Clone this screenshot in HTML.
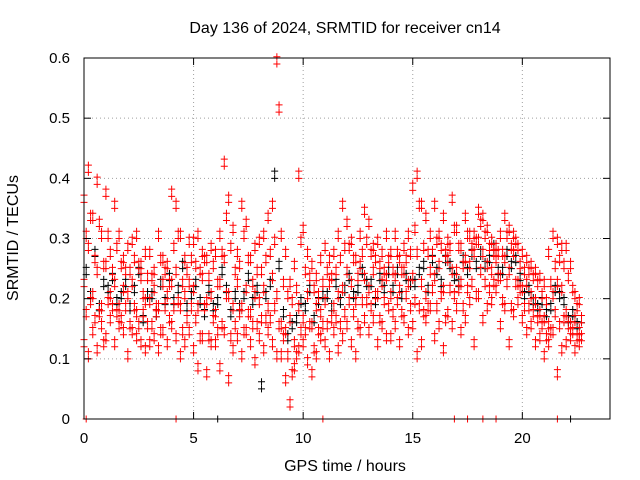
<!DOCTYPE html>
<html><head><meta charset="utf-8"><style>
html,body{margin:0;padding:0;background:#fff;}
svg{display:block;font-family:"Liberation Sans",Arial,sans-serif;}
</style></head><body>
<svg id="chart" width="640" height="480">
<rect x="0" y="0" width="640" height="480" fill="#fff"/>
<text x="345" y="33" font-size="16" text-anchor="middle">Day 136 of 2024, SRMTID for receiver cn14</text>
<text x="345" y="471" font-size="16" text-anchor="middle">GPS time / hours</text>
<text transform="translate(18,238) rotate(-90)" font-size="16" text-anchor="middle">SRMTID / TECUs</text>
<g id="grid"></g><g id="marks"></g><g id="axes"></g>
</svg>
<script>
const xTicks=[0,5,10,15,20];
const yTicks=[0,0.1,0.2,0.3,0.4,0.5,0.6];
const yTickLabels=["0","0.1","0.2","0.3","0.4","0.5","0.6"];
const times=[0,0.2,0.4,0.6,0.8,1,1.2,1.4,1.6,1.8,2,2.2,2.4,2.6,2.8,3,3.2,3.4,3.6,3.8,4,4.2,4.4,4.6,4.8,5,5.2,5.4,5.6,5.8,6,6.2,6.4,6.6,6.8,7,7.2,7.4,7.6,7.8,8,8.2,8.4,8.6,8.8,9,9.2,9.4,9.6,9.8,10,10.2,10.4,10.6,10.8,11,11.2,11.4,11.6,11.8,12,12.2,12.4,12.6,12.8,13,13.2,13.4,13.6,13.8,14,14.2,14.4,14.6,14.8,15,15.2,15.4,15.6,15.8,16,16.2,16.4,16.6,16.8,17,17.2,17.4,17.6,17.8,18,18.2,18.4,18.6,18.8,19,19.2,19.4,19.6,19.8,20,20.2,20.4,20.6,20.8,21,21.2,21.4,21.6,21.8,22,22.2,22.4,22.6];
const redHi=[.36,.41,.33,.39,.30,.37,.27,.35,.30,.26,.28,.29,.30,.25,.27,.27,.24,.30,.26,.25,.37,.35,.30,.26,.29,.29,.30,.27,.26,.28,.27,.30,.42,.36,.31,.27,.35,.32,.26,.28,.29,.30,.33,.35,.59,.30,.27,.22,.25,.40,.31,.27,.25,.23,.26,.28,.26,.27,.30,.35,.32,.29,.26,.30,.34,.32,.28,.29,.27,.30,.27,.30,.26,.28,.30,.38,.40,.35,.33,.30,.35,.30,.33,.29,.36,.31,.28,.33,.30,.30,.34,.33,.31,.29,.28,.30,.33,.31,.30,.28,.27,.26,.25,.24,.23,.22,.27,.30,.29,.28,.28,.25,.20,.19];
const redUpper=[.30,.33,.26,.32,.25,.30,.24,.28,.25,.24,.24,.26,.25,.20,.23,.23,.18,.26,.24,.22,.28,.30,.22,.24,.26,.25,.24,.26,.23,.25,.22,.27,.33,.28,.24,.25,.30,.26,.22,.24,.24,.26,.27,.29,.51,.22,.20,.19,.21,.29,.24,.23,.21,.20,.22,.24,.23,.24,.26,.28,.28,.26,.23,.27,.29,.27,.26,.25,.24,.26,.24,.27,.24,.26,.27,.31,.35,.28,.27,.27,.29,.28,.27,.28,.31,.28,.25,.30,.28,.29,.32,.30,.28,.27,.27,.27,.30,.28,.29,.25,.24,.24,.23,.22,.20,.19,.22,.25,.26,.25,.23,.21,.18,.16];
const redMid=[.22,.28,.20,.24,.18,.25,.20,.22,.18,.21,.20,.22,.17,.23,.19,.19,.21,.18,.22,.20,.22,.24,.18,.20,.22,.21,.18,.23,.19,.20,.17,.22,.26,.20,.18,.22,.18,.21,.17,.20,.19,.21,.18,.23,.20,.15,.14,.16,.12,.18,.16,.20,.15,.18,.17,.19,.22,.18,.20,.21,.24,.22,.19,.25,.23,.21,.24,.20,.22,.23,.20,.23,.21,.24,.22,.23,.27,.22,.20,.24,.23,.25,.21,.26,.24,.24,.22,.26,.25,.27,.29,.27,.25,.24,.26,.23,.26,.24,.27,.22,.21,.22,.20,.19,.17,.16,.15,.20,.22,.21,.17,.15,.16,.14];
const redLower=[.17,.19,.16,.17,.12,.19,.18,.17,.16,.18,.15,.18,.15,.17,.15,.15,.17,.14,.18,.16,.18,.19,.14,.16,.18,.16,.13,.18,.13,.16,.14,.15,.20,.13,.15,.17,.14,.17,.15,.15,.16,.16,.16,.18,.15,.13,.10,.07,.10,.14,.14,.15,.11,.14,.15,.15,.16,.16,.15,.17,.19,.17,.15,.19,.19,.18,.20,.16,.19,.18,.17,.19,.17,.20,.18,.19,.18,.17,.18,.21,.18,.20,.16,.21,.20,.21,.18,.21,.22,.20,.24,.22,.21,.22,.23,.19,.22,.18,.22,.21,.18,.18,.17,.16,.15,.13,.14,.17,.15,.16,.15,.14,.13,.13];
const redLo=[.12,.10,.14,.11,.15,.13,.16,.12,.15,.14,.10,.14,.13,.12,.11,.12,.13,.11,.14,.12,.15,.13,.10,.12,.14,.11,.08,.13,.07,.12,.12,.08,.14,.06,.11,.13,.10,.14,.12,.09,.13,.11,.14,.12,.10,.10,.06,.02,.08,.11,.12,.09,.07,.10,.13,.12,.10,.14,.11,.13,.15,.12,.10,.14,.16,.14,.16,.12,.15,.13,.13,.15,.12,.16,.14,.15,.10,.12,.16,.18,.13,.15,.11,.17,.15,.18,.14,.16,.19,.12,.20,.16,.18,.19,.21,.15,.18,.12,.17,.19,.16,.14,.15,.12,.13,.10,.12,.14,.07,.11,.12,.13,.11,.12];
const blackVals=[.24,.20,.27,.18,.22,.21,.23,.19,.20,.22,.18,.21,.24,.16,.20,.20,.17,.22,.19,.23,.19,.21,.25,.18,.20,.22,.19,.17,.21,.18,.19,.24,.21,.17,.20,.18,.20,.23,.19,.21,.05,.20,.22,.40,.25,.17,.13,.15,.16,.19,.18,.21,.16,.19,.20,.20,.18,.22,.19,.21,.23,.20,.21,.24,.22,.22,.19,.23,.21,.24,.21,.24,.20,.23,.22,.22,.24,.25,.21,.26,.24,.22,.26,.25,.23,.22,.26,.24,.27,.25,.27,.25,.26,.28,.24,.24,.27,.25,.26,.23,.20,.21,.19,.18,.19,.17,.18,.21,.20,.19,.16,.17,.15,.16];
const zeroTimes=[0.1,4.2,10.9,16.9,17.5,18.2,18.8,21.6];
const zeroBlackTimes=[6.1,22.2];

const X0=84,X1=610,Y0=419,Y1=58,XMAX=24,YMAX=0.6;
const sx=v=>X0+(X1-X0)*v/XMAX;
const sy=v=>Y0-(Y0-Y1)*v/YMAX;
const NS="http://www.w3.org/2000/svg";
function mk(tag,attrs,parent){const e=document.createElementNS(NS,tag);for(const k in attrs)e.setAttribute(k,attrs[k]);parent.appendChild(e);return e;}
const grid=document.getElementById('grid'),marks=document.getElementById('marks'),axes=document.getElementById('axes');

yTicks.forEach((v,i)=>{
  if(i>0&&i<yTicks.length-1){const g=mk('line',{x1:X0,x2:X1,y1:sy(v),y2:sy(v),stroke:'#a0a0a0','stroke-dasharray':'1,3'},grid);
  
  }
  const t=mk('line',{x1:X0,x2:X0+7,y1:sy(v),y2:sy(v),stroke:'#000'},axes);
  
  
  const t2=mk('line',{x1:X1,x2:X1-7,y1:sy(v),y2:sy(v),stroke:'#000'},axes);
  
  
  const l=mk('text',{x:70,y:sy(v)+5,'font-size':15,'text-anchor':'end'},axes);
  l.textContent=yTickLabels[i];
  
  
});
xTicks.forEach(v=>{
  if(v>0){const g=mk('line',{x1:sx(v),x2:sx(v),y1:Y0,y2:Y1,stroke:'#a0a0a0','stroke-dasharray':'1,3'},grid);
  
  }
  const t=mk('line',{x1:sx(v),x2:sx(v),y1:Y0,y2:Y0-7,stroke:'#000'},axes);
  
  
  const t2=mk('line',{x1:sx(v),x2:sx(v),y1:Y1,y2:Y1+7,stroke:'#000'},axes);
  
  
  const l=mk('text',{x:sx(v),y:443,'font-size':15,'text-anchor':'middle'},axes);
  l.textContent=String(v);
  
  
});
const frame=mk('rect',{x:X0,y:Y1,width:X1-X0,height:Y0-Y1,fill:'none',stroke:'#000'},axes);



function plus(t,v,color,name){
  const x=sx(t),y=sy(v);
  const p=mk('path',{d:`M${x-3.5},${y}H${x+3.5}M${x},${y-3.5}V${y+3.5}`,stroke:color,'stroke-width':1,fill:'none'},marks);
  
  
}
/* each sample drawn as a small vertical pair of markers, like the stacked crosses of the original */
function pair(t,v,color,name){
  plus(t,v,color,name);
  plus(t,v+0.012,color,name);
}
times.forEach((t,i)=>pair(t+0.1,blackVals[i],'#000','black-point'));
zeroBlackTimes.forEach(t=>plus(t,0,'#000','black-zero-point'));
times.forEach((t,i)=>{
  pair(t,redHi[i],'#f00','red-point');
  pair(t+0.1,redUpper[i],'#f00','red-point');
  pair(t,redMid[i],'#f00','red-point');
  pair(t+0.1,redLower[i],'#f00','red-point');
  pair(t,redLo[i],'#f00','red-point');
});
zeroTimes.forEach(t=>plus(t,0,'#f00','red-zero-point'));
</script>
</body></html>
